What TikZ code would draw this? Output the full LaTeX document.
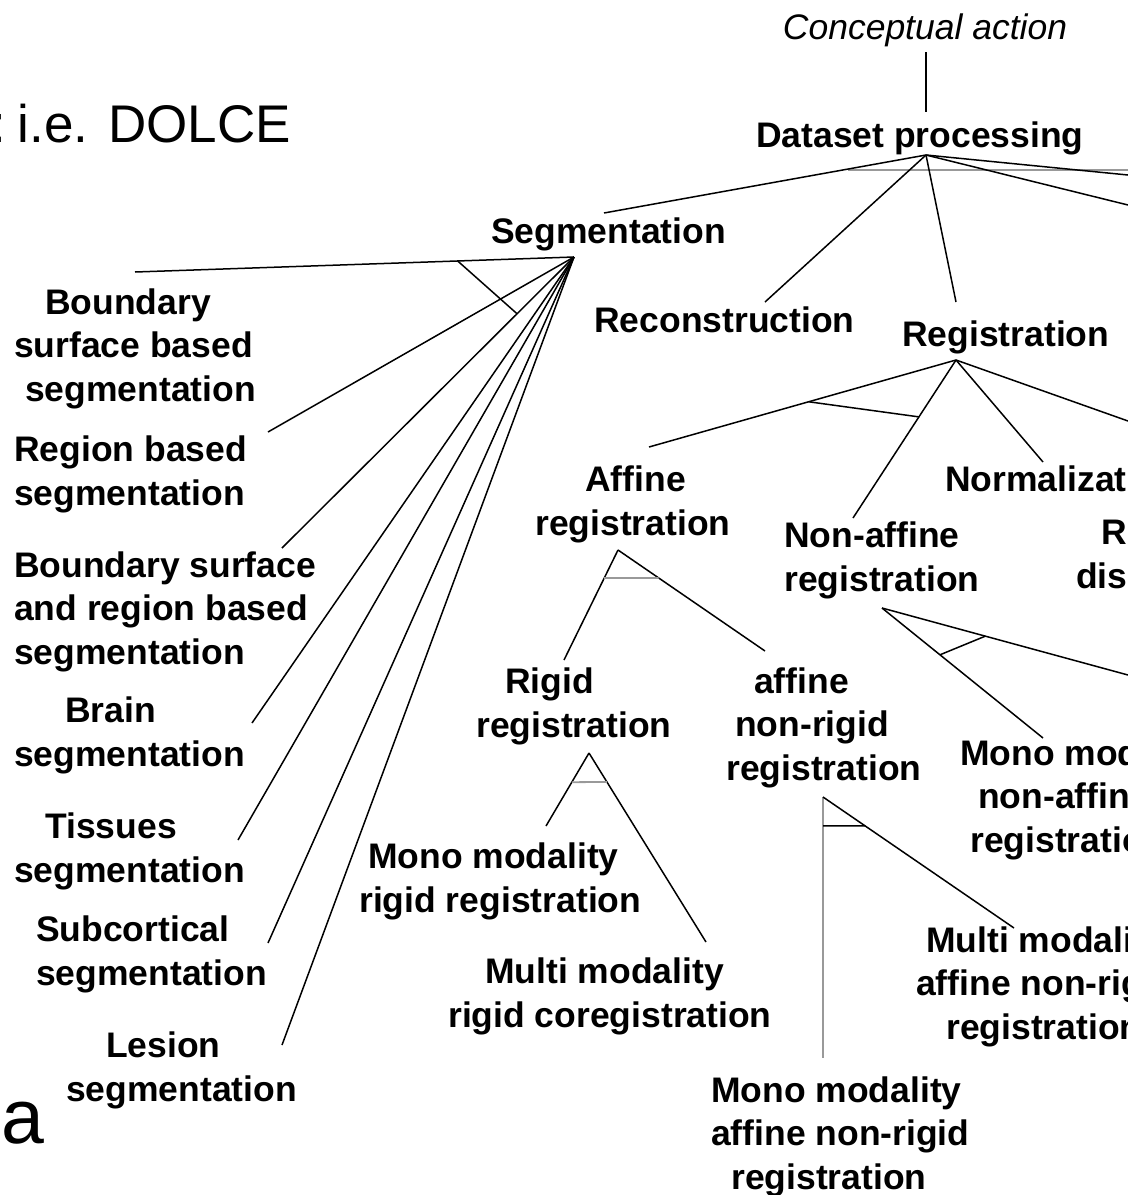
\documentclass[tikz,border=0pt]{standalone}
\usepackage{fontspec}
\setmainfont{Liberation Sans}
\usetikzlibrary{calc}
\newcommand{\ind}[1]{\hspace*{#1pt}}
\begin{document}
\begin{tikzpicture}[x=1pt,y=-1pt,
  lbl/.style={font=\bfseries\fontsize{35.5}{43.5}\selectfont, inner sep=0pt, align=left, anchor=base west},
  conn/.style={line width=1.5pt, black},
  bar/.style={line width=1.8pt, black!40}]
\useasboundingbox (0,0) rectangle (1128,1195);
\clip (0,0) rectangle (1128,1195);
\fill[white] (0,0) rectangle (1128,1195);

% slide text
\node[font=\fontsize{53}{60}\selectfont, inner sep=0pt, anchor=base east] (colon) at (6,142) {:};
\node[font=\fontsize{53}{60}\selectfont, inner sep=0pt, anchor=base east] (dolce) at (291,142) {i.e. DOLCE};
\node[font=\fontsize{77}{90}\selectfont, inner sep=0pt, anchor=base west] (aletter) at (1,1143) {a};

% labels (base anchor = baseline of last line)
\node[font=\itshape\fontsize{35.5}{43.5}\selectfont, inner sep=0pt, anchor=base] (concept) at (925,39) {Conceptual action};
\node[lbl] (dataset) at (756,147) {Dataset processing};
\node[lbl] (seg) at (491,243) {Segmentation};
\node[lbl] (recon) at (594,332) {Reconstruction};
\node[lbl] (reg) at (902,346) {Registration};

\node[lbl] (bsb) at (14,401) {\ind{31}Boundary\\surface based\\\ind{11}segmentation};
\node[lbl] (rbs) at (14,505) {Region based\\segmentation};
\node[lbl] (bsr) at (14,664) {Boundary surface\\and region based\\segmentation};
\node[lbl] (brain) at (14,766) {\ind{51}Brain\\segmentation};
\node[lbl] (tissues) at (14,882) {\ind{31}Tissues\\segmentation};
\node[lbl] (subcort) at (36,985) {Subcortical\\segmentation};
\node[lbl] (lesion) at (66,1101) {\ind{40}Lesion\\segmentation};

\node[lbl] (affine) at (535,535) {\ind{50}Affine\\registration};
\node[lbl] (nonaff) at (784,591) {Non-affine\\registration};
\node[lbl] (norm) at (945,491) {Normalization};
\node[lbl] (rdis) at (1076,588) {\ind{25}R\\dis};

\node[lbl] (rigid) at (476,737) {\ind{29}Rigid\\registration};
\node[lbl] (anr) at (726,780) {\ind{28}affine\\\ind{9}non-rigid\\registration};
\node[lbl] (mmrr) at (359,912) {\ind{9}Mono modality\\rigid registration};
\node[lbl] (mmrc) at (448,1027) {\ind{37}Multi modality\\rigid coregistration};
\node[lbl] (mmanr) at (711,1189) {Mono modality\\affine non-rigid\\\ind{20}registration};
\node[lbl] (mmna) at (960,852) {Mono modality\\\ind{18}non-affine\\\ind{10}registration};
\node[lbl] (manr) at (916,1039) {\ind{10}Multi modality\\affine non-rigid\\\ind{30}registration};

% connector points
\coordinate (ca-bot) at (926,52);
\coordinate (dp-top) at (926,112);
\coordinate (dp-apex) at (926,155);
\coordinate (seg-end) at (604,213);
\coordinate (recon-end) at (765,302);
\coordinate (reg-end) at (956,302);
\coordinate (r1-end) at (1128,175);
\coordinate (r2-end) at (1128,205);
\coordinate (dpbar-l) at (848,170);
\coordinate (dpbar-r) at (1128,170);

\coordinate (seg-apex) at (574,257);
\coordinate (bsb-end) at (135,272);
\coordinate (rbs-end) at (268,432);
\coordinate (bsr-end) at (282,548);
\coordinate (brain-end) at (252,723);
\coordinate (tissues-end) at (238,840);
\coordinate (subcort-end) at (268,943);
\coordinate (lesion-end) at (282,1045);

\coordinate (reg-apex) at (956,360);
\coordinate (affine-end) at (649,447);
\coordinate (nonaff-end) at (853,518);
\coordinate (norm-end) at (1043,462);
\coordinate (rdis-end) at (1128,421);

\coordinate (aff-apex) at (618,550);
\coordinate (rigid-end) at (564,660);
\coordinate (anr-end) at (765,651);

\coordinate (rig-apex) at (589,753);
\coordinate (mmrr-end) at (546,826);
\coordinate (mmrc-end) at (706,942);

\coordinate (anr-apex) at (823,797);
\coordinate (mmanr-end) at (823,1058);
\coordinate (manr-end) at (1014,928);

\coordinate (na-apex) at (882,608);
\coordinate (mmna-end) at (1043,738);
\coordinate (naright-end) at (1128,675);

% connectors
\draw[conn] (ca-bot) -- (dp-top);
\draw[bar] (dpbar-l) -- (dpbar-r);
\draw[conn] (dp-apex) -- (seg-end);
\draw[conn] (dp-apex) -- (recon-end);
\draw[conn] (dp-apex) -- (reg-end);
\draw[conn] (dp-apex) -- (r1-end);
\draw[conn] (dp-apex) -- (r2-end);

\foreach \e in {bsb,rbs,bsr,brain,tissues,subcort,lesion}
  \draw[conn] (seg-apex) -- (\e-end);
\draw[conn] ($(seg-apex)!0.265!(bsb-end)$) -- ($(seg-apex)!0.195!(bsr-end)$);

\draw[conn] (reg-apex) -- (affine-end);
\draw[conn] (reg-apex) -- (nonaff-end);
\draw[conn] (reg-apex) -- (norm-end);
\draw[conn] (reg-apex) -- (rdis-end);
\draw[conn] ($(reg-apex)!0.48!(affine-end)$) -- ($(reg-apex)!0.36!(nonaff-end)$);

\draw[conn] (aff-apex) -- (rigid-end);
\draw[conn] (aff-apex) -- (anr-end);
\draw[bar] ($(aff-apex)!0.255!(rigid-end)$) -- ($(aff-apex)!0.277!(anr-end)$);

\draw[conn] (rig-apex) -- (mmrr-end);
\draw[conn] (rig-apex) -- (mmrc-end);
\draw[bar] ($(rig-apex)!0.40!(mmrr-end)$) -- ($(rig-apex)!0.153!(mmrc-end)$);

\draw[bar] (anr-apex) -- (mmanr-end);
\draw[conn] (anr-apex) -- (manr-end);
\draw[conn] ($(anr-apex)!0.111!(mmanr-end)$) -- ($(anr-apex)!0.221!(manr-end)$);

\draw[conn] (na-apex) -- (mmna-end);
\draw[conn] (na-apex) -- (naright-end);
\draw[conn] ($(na-apex)!0.36!(mmna-end)$) -- ($(na-apex)!0.42!(naright-end)$);
\end{tikzpicture}
\end{document}
